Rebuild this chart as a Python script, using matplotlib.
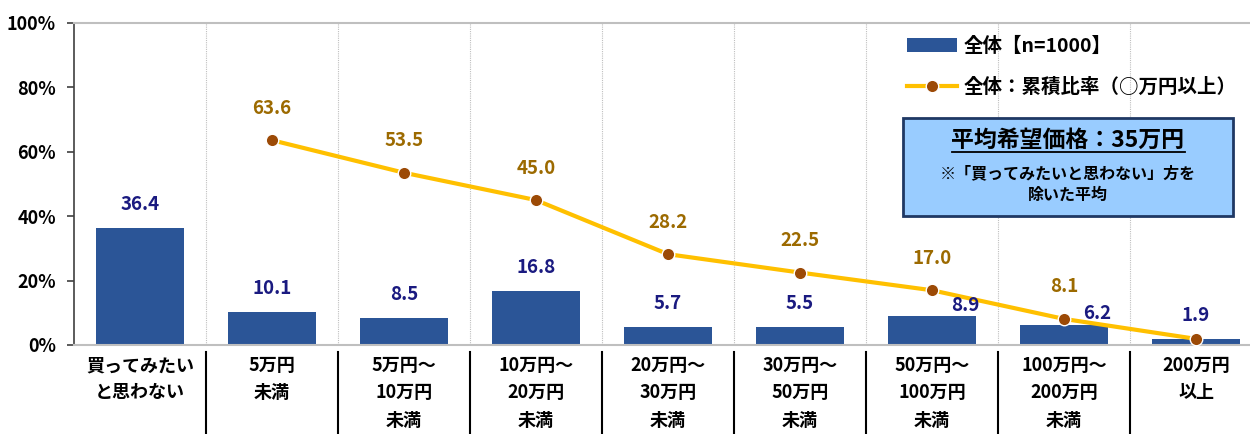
import matplotlib
matplotlib.use("Agg")
import matplotlib.pyplot as plt
from matplotlib.patches import Patch, FancyBboxPatch
from matplotlib.lines import Line2D
import numpy as np

plt.rcParams['font.family'] = ['Noto Sans CJK JP', 'DejaVu Sans']

categories = ["買ってみたい\nと思わない", "5万円\n未満", "5万円～\n10万円\n未満", "10万円～\n20万円\n未満",
              "20万円～\n30万円\n未満", "30万円～\n50万円\n未満", "50万円～\n100万円\n未満",
              "100万円～\n200万円\n未満", "200万円\n以上"]
bar_values = [36.4, 10.1, 8.5, 16.8, 5.7, 5.5, 8.9, 6.2, 1.9]
cum_values = [None, 63.6, 53.5, 45.0, 28.2, 22.5, 17.0, 8.1, 1.9]
yticks = [0, 20, 40, 60, 80, 100]
bar_label = "全体【n=1000】"
line_label = "全体：累積比率（○万円以上）"

BAR = "#2B5597"
LINE = "#FFC000"
MARK = "#9C4A06"
BARTXT = "#1A1A80"
LINETXT = "#9C6A00"

fig = plt.figure(figsize=(12.5, 4.34), dpi=100)
ax = fig.add_axes([74 / 1250, 1 - 345 / 434, 1188 / 1250, 322 / 434])

x = np.arange(len(categories))
ax.bar(x, bar_values, width=0.67, color=BAR, zorder=2)
# label offsets (points) for bar labels that would collide with the line
bar_offsets = {6: (24, 8), 7: (24, 8)}
for xi, v in zip(x, bar_values):
    dx, dy = bar_offsets.get(int(xi), (0, 17))
    ax.annotate(f"{v:.1f}", (xi, v), xytext=(dx, dy), textcoords="offset points",
                ha="center", va="center", color=BARTXT,
                fontsize=13.5, fontweight="bold", zorder=5)

lx = [xi for xi, v in zip(x, cum_values) if v is not None]
ly = [v for v in cum_values if v is not None]
ax.plot(lx, ly, color=LINE, lw=3, marker="o", markersize=9, markerfacecolor=MARK,
        markeredgecolor="white", markeredgewidth=1, zorder=4, clip_on=False)
for xi, v in zip(lx, ly):
    if xi == len(categories) - 1:
        continue
    ax.annotate(f"{v:.1f}", (xi, v), xytext=(0, 23), textcoords="offset points",
                ha="center", va="center", color=LINETXT,
                fontsize=13.5, fontweight="bold", zorder=5)

ax.set_xlim(-0.5, len(categories) - 0.5)
ax.set_ylim(0, 100)
ax.set_yticks(yticks)
ax.set_yticklabels([f"{t}%" for t in yticks], fontsize=13, fontweight="bold")
ax.tick_params(axis="y", direction="out", length=5, width=1.2, color="#404040", pad=8)
ax.set_xticks(x)
ax.set_xticklabels(categories, fontsize=13, fontweight="bold", linespacing=1.55, va="top")
ax.tick_params(axis="x", length=0, pad=8)

ax.spines["right"].set_visible(False)
ax.spines["left"].set_color("#404040")
ax.spines["left"].set_linewidth(1.2)
ax.spines["bottom"].set_color("#BFBFBF")
ax.spines["bottom"].set_linewidth(1.5)
ax.spines["top"].set_color("#BFBFBF")
ax.spines["top"].set_linewidth(1.5)

for b in np.arange(0.5, len(categories) - 0.5, 1.0):
    ax.axvline(b, color="#BFBFBF", lw=0.8, ls=(0, (1, 1)), zorder=1)
    ax.add_line(Line2D([b, b], [-0.022, -0.35], transform=ax.get_xaxis_transform(),
                       color="black", lw=1.5, clip_on=False))

handles = [Patch(facecolor=BAR, edgecolor="none"),
           Line2D([], [], color=LINE, lw=3, marker="o", markersize=9,
                  markerfacecolor=MARK, markeredgecolor="white")]
leg = fig.legend(handles, [bar_label, line_label], loc="upper left",
                 bbox_to_anchor=(897 / 1250, 1 - 27 / 434), frameon=False,
                 prop={"size": 14, "weight": "bold"}, handlelength=2.6,
                 labelspacing=1.15, handletextpad=0.35, borderpad=0)

# annotation box
bx0, by0, bx1, by1 = 903 / 1250, 1 - 216 / 434, 1233 / 1250, 1 - 118 / 434
box = FancyBboxPatch((bx0, by0), bx1 - bx0, by1 - by0, boxstyle="square,pad=0",
                     transform=fig.transFigure, facecolor="#99CCFF",
                     edgecolor="#1F3864", lw=2, zorder=6)
fig.patches.append(box)
cx = (bx0 + bx1) / 2
t1 = fig.text(cx, 1 - 140 / 434, "平均希望価格：35万円", ha="center", va="center",
              fontsize=16.5, fontweight="bold", zorder=7)
fig.text(cx, 1 - 184 / 434, "※「買ってみたいと思わない」方を\n除いた平均", ha="center",
         va="center", fontsize=11.5, fontweight="bold", linespacing=1.5, zorder=7)
fig.canvas.draw()
bb = t1.get_window_extent().transformed(fig.transFigure.inverted())
fig.add_artist(Line2D([bb.x0, bb.x1], [bb.y0 - 0.002, bb.y0 - 0.002],
                      transform=fig.transFigure, color="black", lw=1.3, zorder=7))

fig.savefig("out.png", dpi=100)
